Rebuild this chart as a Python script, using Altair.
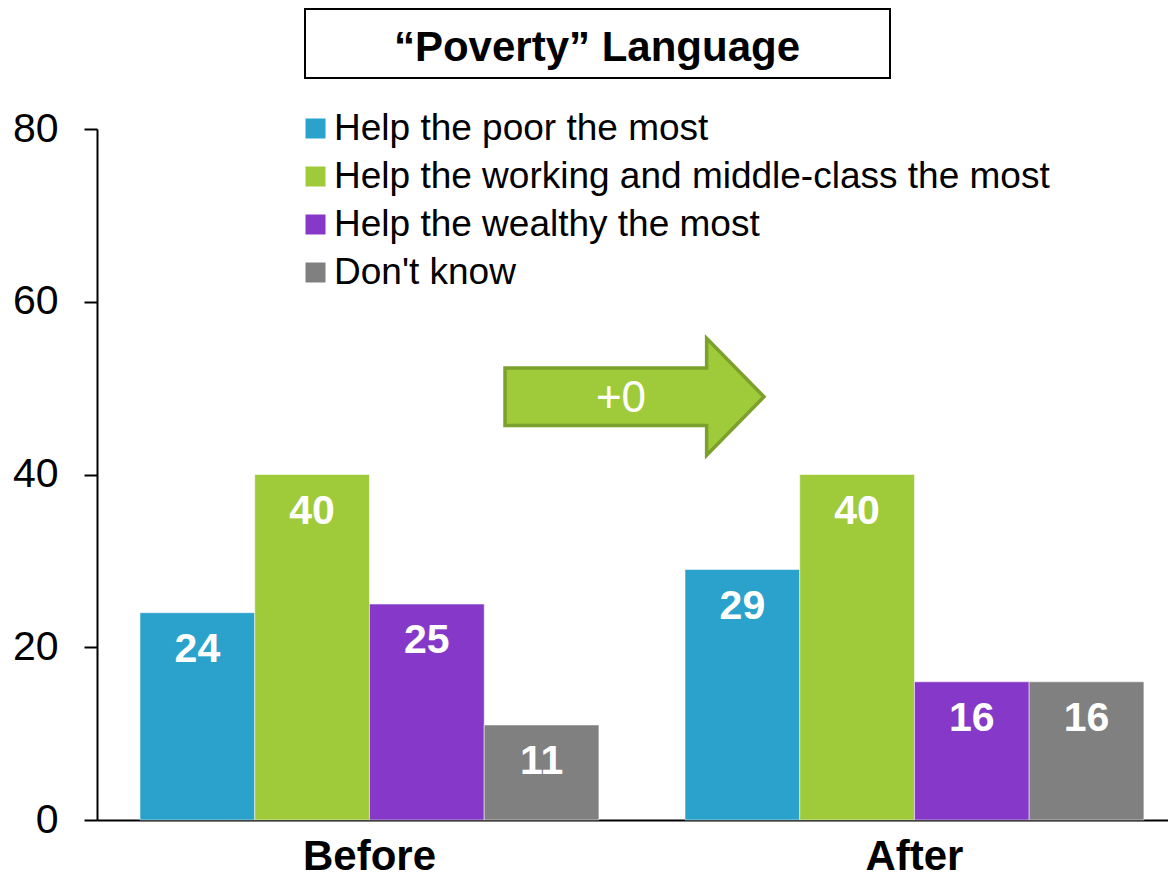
import altair as alt
import pandas as pd

groups = ["Before", "After"]
categories = [
    "Help the poor the most",
    "Help the working and middle-class the most",
    "Help the wealthy the most",
    "Don't know",
]
before_values = [24, 40, 25, 11]
after_values = [29, 40, 16, 16]
colors = ["#2AA2CC", "#9FCB3B", "#8638C8", "#808080"]
y_ticks = [0, 20, 40, 60, 80]
title_text = "\u201cPoverty\u201d Language"

FONT = "Liberation Sans"

rows = []
for g, vals in zip(groups, [before_values, after_values]):
    for c, v in zip(categories, vals):
        rows.append({"group": g, "category": c, "value": v})
df = pd.DataFrame(rows)

x_enc = alt.X(
    "group:N",
    sort=groups,
    scale=alt.Scale(paddingInner=0.158, paddingOuter=0.0616, align=0.641),
    axis=alt.Axis(
        title=None, labelAngle=0, ticks=False, tickSize=0,
        labelFontSize=42, labelFontWeight="bold", labelFont=FONT,
        labelColor="black", labelPadding=49, labelBaseline="alphabetic",
        domainColor="black", domainWidth=2,
    ),
)
xoff_enc = alt.XOffset("category:N", sort=categories,
                       scale=alt.Scale(paddingInner=0, paddingOuter=0))
y_enc = alt.Y(
    "value:Q",
    scale=alt.Scale(domain=[0, 80], nice=False),
    axis=alt.Axis(
        values=y_ticks, grid=False, title=None,
        tickSize=13, tickWidth=2, tickColor="black",
        domainColor="black", domainWidth=2,
        labelFontSize=41, labelFont=FONT, labelColor="black", labelPadding=26,
    ),
)

base = alt.Chart(df)

bars = base.mark_bar(stroke="white", strokeWidth=1, strokeOpacity=0.5).encode(
    x=x_enc,
    xOffset=xoff_enc,
    y=y_enc,
    color=alt.Color(
        "category:N",
        sort=categories,
        scale=alt.Scale(domain=categories, range=colors),
        legend=alt.Legend(
            title=None, orient="none", legendX=200, legendY=-19,
            symbolType="square", symbolSize=400, symbolStrokeWidth=0,
            labelFontSize=37, labelFont=FONT, labelColor="black",
            labelLimit=2000, labelOffset=0, rowPadding=10,
        ),
    ),
)

labels = base.mark_text(
    baseline="middle", dy=37, color="white", fontSize=41,
    fontWeight="bold", font=FONT,
).encode(
    x=alt.X("group:N", sort=groups),
    xOffset=alt.XOffset("category:N", sort=categories),
    y="value:Q",
    text="value:Q",
)

# title box
title_df = pd.DataFrame({"t": [title_text]})
title_box = alt.Chart(title_df).mark_rect(
    fill="white", stroke="black", strokeWidth=2
).encode(
    x=alt.value(208), x2=alt.value(793), y=alt.value(-120), y2=alt.value(-51)
)
title_label = alt.Chart(title_df).mark_text(
    fontSize=42, fontWeight="bold", font=FONT, color="black",
    align="center", baseline="alphabetic",
).encode(x=alt.value(500), y=alt.value(-68), text="t:N")

# arrow annotation: change in the working/middle-class share
change = after_values[1] - before_values[1]
arrow_df = pd.DataFrame({"value": [49], "label": [f"+{change}" if change >= 0 else f"{change}"]})
arrow_path = "M -1 -0.222 L 0.557 -0.222 L 0.557 -0.452 L 1 0 L 0.557 0.452 L 0.557 0.222 L -1 0.222 Z"
arrow = alt.Chart(arrow_df).mark_point(
    shape=arrow_path, size=259 ** 2, filled=True, fill="#9FCB3B",
    stroke="#7BA02C", strokeWidth=3.5, opacity=1,
).encode(x=alt.value(537.5), y="value:Q")
arrow_text = alt.Chart(arrow_df).mark_text(
    color="white", fontSize=44, font=FONT, baseline="middle", align="center", dy=2,
).encode(x=alt.value(524), y="value:Q", text="label:N")

chart = alt.layer(bars, labels, arrow, arrow_text, title_box, title_label).properties(
    width=1071,
    height=691,
    padding={"left": 89, "top": 121, "right": 0, "bottom": 59},
    autosize=alt.AutoSizeParams(type="none"),
    background="white",
).configure_view(stroke=None)

chart.save("out.html", embed_options={"renderer": "svg", "actions": False})
